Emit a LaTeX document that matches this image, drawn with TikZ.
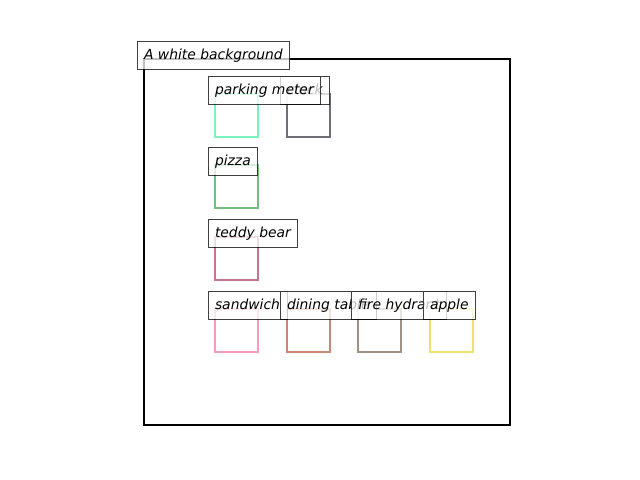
\documentclass[tikz,border=0pt]{standalone}
\usepackage{fontspec}
\setmainfont{DejaVu Sans}
\definecolor{meterteal}{RGB}{120,245,190}
\definecolor{clockgray}{RGB}{110,110,120}
\definecolor{pizzagreen}{RGB}{115,190,125}
\definecolor{bearrose}{RGB}{200,115,145}
\definecolor{sandwichpink}{RGB}{245,155,190}
\definecolor{tablebrown}{RGB}{200,135,115}
\definecolor{hydranttaupe}{RGB}{160,145,130}
\definecolor{appleyellow}{RGB}{240,225,110}

\begin{document}
\begin{tikzpicture}[x=0.72pt, y=-0.72pt,
    frame/.style={line width=1.6pt, line join=miter},
    objbox/.style={line width=1.8pt},
    tag/.style={draw=black, draw opacity=0.75, fill=white, fill opacity=0.75, text opacity=1,
                line width=0.6pt, font=\itshape, inner xsep=5pt, inner ysep=4pt,
                text height=8.96pt, text depth=3.2pt, anchor=text}]
  % An object box: #1 = left, #2 = top, #3 = color. Side 43 px.
  \newcommand{\objectbox}[3]{%
    \draw[objbox, #3] (#1,#2) rectangle (#1+43,#2+43);}

  \useasboundingbox (0,0) rectangle (640,480);
  \draw[frame] (144,59) rectangle (510,425);

  \objectbox{215}{94}{meterteal}
  \objectbox{287}{94}{clockgray}
  \objectbox{215}{165}{pizzagreen}
  \objectbox{215}{237}{bearrose}
  \objectbox{215}{309}{sandwichpink}
  \objectbox{287}{309}{tablebrown}
  \objectbox{358}{309}{hydranttaupe}
  \objectbox{430}{309}{appleyellow}

  % labels sit on the top left corner of their box, later ones cover earlier ones
  \node[tag] (bg) at (144,59) {A white background};
  \node[tag] (clock) at (287,94) {clock};
  \node[tag] (meter) at (215,94) {parking meter};
  \node[tag] (pizza) at (215,165) {pizza};
  \node[tag] (bear) at (215,237) {teddy bear};
  \node[tag] (sandwich) at (215,309) {sandwich};
  \node[tag] (table) at (287,309) {dining table};
  \node[tag] (hydrant) at (358,309) {fire hydrant};
  \node[tag] (apple) at (430,309) {apple};
\end{tikzpicture}
\end{document}
